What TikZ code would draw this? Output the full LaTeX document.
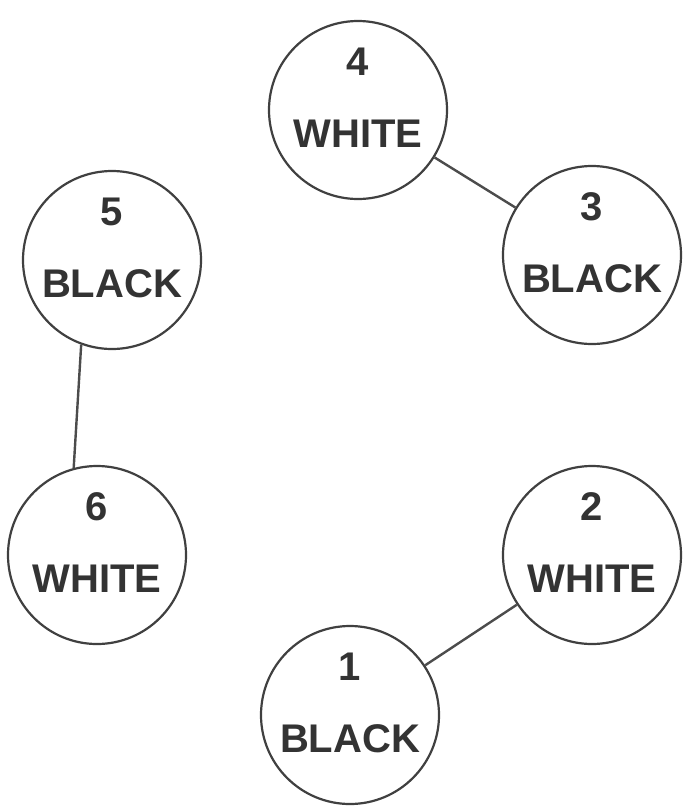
\documentclass[tikz,border=0pt]{standalone}
\usepackage{fontspec}
\setsansfont{Liberation Sans}
\usetikzlibrary{positioning}

\begin{document}
\begin{tikzpicture}[x=1pt, y=-1pt,
    disc/.style={circle, draw=black!75, line width=2.2pt, minimum size=178pt,
      inner sep=-20pt, align=center, text=black!80, text depth=24pt,
      font=\sffamily\bfseries\fontsize{40}{72}\selectfont},
    link/.style={draw=black!70, line width=2.4pt}
]
\useasboundingbox[fill=white] (0,0) rectangle (691,809);
\node[disc] (n4) at (358,110) {4\\WHITE};
\node[disc] (n3) at (592,255) {3\\BLACK};
\node[disc] (n5) at (112,260) {5\\BLACK};
\node[disc] (n6) at (97,555)  {6\\WHITE};
\node[disc] (n2) at (592,555) {2\\WHITE};
\node[disc] (n1) at (350,715) {1\\BLACK};
\draw[link] (n4) -- (n3);
\draw[link] (n5.250) -- (n6.105);
\draw[link] (n2) -- (n1);
\end{tikzpicture}
\end{document}
